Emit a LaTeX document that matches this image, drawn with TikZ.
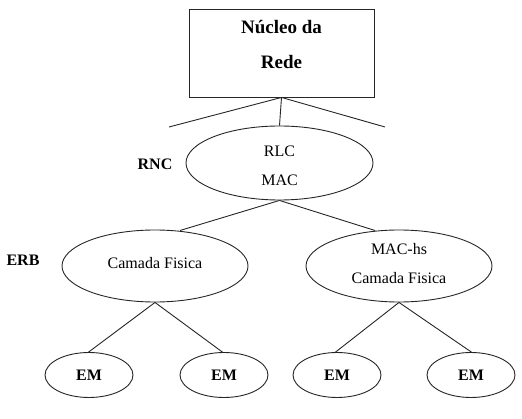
\documentclass[tikz,border=0pt]{standalone}
\usepackage{fontspec}
\setmainfont{Liberation Serif}
\usetikzlibrary{shapes.geometric}
\begin{document}
\begin{tikzpicture}[x=1pt,y=-1pt,
  ell/.style={draw=black!85,line width=0.9pt,ellipse,inner sep=0pt},
  lbl/.style={font=\fontsize{16}{16}\selectfont},
  blbl/.style={font=\bfseries\fontsize{16}{16}\selectfont},
  conn/.style={draw=black!85,line width=0.9pt}]
\useasboundingbox (0,0) rectangle (522,419);
\node[draw=black!85,line width=0.9pt,minimum width=185pt,minimum height=88pt,inner sep=0pt] (core) at (281.5,53) {};
\node[font=\bfseries\fontsize{19}{19}\selectfont] (coreA) at (281.5,27) {Núcleo da};
\node[font=\bfseries\fontsize{19}{19}\selectfont] (coreB) at (281.5,62) {Rede};
\node[ell,minimum width=187pt,minimum height=74pt] (rnc) at (279.5,163) {};
\node[lbl] (rlc) at (279.5,151) {RLC};
\node[lbl] (mac) at (279.5,180) {MAC};
\node[blbl] (rnclbl) at (155,164) {RNC};
\coordinate (ll) at (169,127);
\coordinate (rr) at (385,127);
\draw[conn] (core.south) -- (rnc.north);
\draw[conn] (core.south) -- (ll);
\draw[conn] (core.south) -- (rr);
\node[ell,minimum width=186pt,minimum height=72pt] (erb1) at (155,266) {};
\node[ell,minimum width=186pt,minimum height=72pt] (erb2) at (399,266) {};
\node[lbl] (cf1) at (155,263) {Camada Fisica};
\node[lbl] (machs) at (399,249) {MAC-hs};
\node[lbl] (cf2) at (399,278) {Camada Fisica};
\node[blbl] (erblbl) at (23,260) {ERB};
\coordinate (a1) at (180,230.5);
\coordinate (a2) at (375,230.5);
\draw[conn] (rnc.south) -- (a1);
\draw[conn] (rnc.south) -- (a2);
\node[ell,minimum width=88pt,minimum height=45pt] (em1) at (89,375) {};
\node[ell,minimum width=88pt,minimum height=45pt] (em2) at (224,375) {};
\node[ell,minimum width=88pt,minimum height=45pt] (em3) at (337,375) {};
\node[ell,minimum width=88pt,minimum height=45pt] (em4) at (471,375) {};
\foreach \n in {1,2,3,4}{\node[blbl] at (em\n) {EM};}
\coordinate (b1) at (88,352.5);
\coordinate (b2) at (223,352.5);
\coordinate (b3) at (335,352.5);
\coordinate (b4) at (472,352.5);
\draw[conn] (erb1.south) -- (b1);
\draw[conn] (erb1.south) -- (b2);
\draw[conn] (erb2.south) -- (b3);
\draw[conn] (erb2.south) -- (b4);
\end{tikzpicture}
\end{document}
